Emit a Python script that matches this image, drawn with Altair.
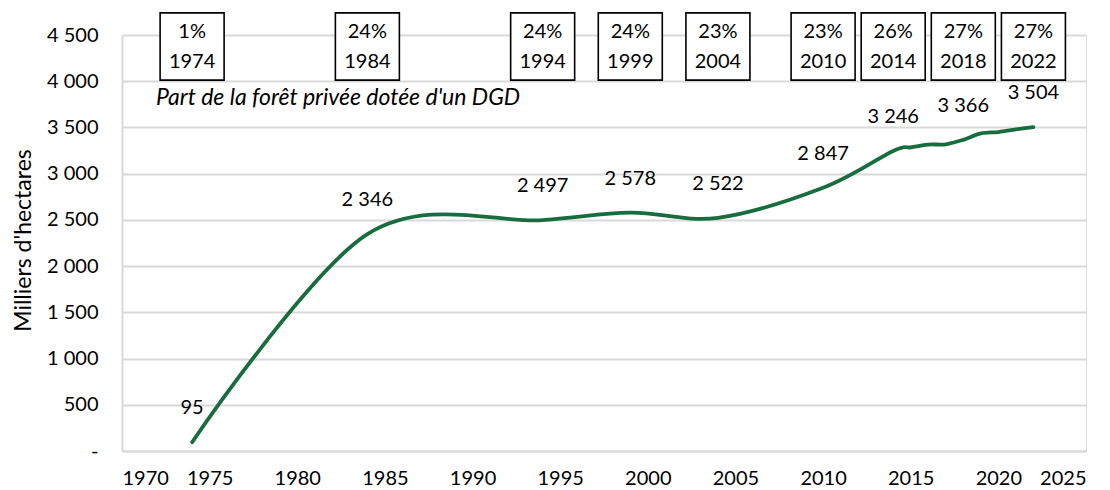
import altair as alt
import pandas as pd

# Line series (thousands of hectares)
years = [1974, 1984, 1994, 1999, 2004, 2010, 2014, 2015, 2016, 2017, 2018, 2019, 2020, 2021, 2022]
values = [95, 2346, 2497, 2578, 2522, 2847, 3246, 3285, 3315, 3318, 3366, 3435, 3450, 3478, 3504]

# Labelled survey years
label_years = [1974, 1984, 1994, 1999, 2004, 2010, 2014, 2018, 2022]
label_values = [95, 2346, 2497, 2578, 2522, 2847, 3246, 3366, 3504]
shares = ["1%", "24%", "24%", "24%", "23%", "23%", "26%", "27%", "27%"]

x_ticks = [1970, 1975, 1980, 1985, 1990, 1995, 2000, 2005, 2010, 2015, 2020, 2025]
y_ticks = [0, 500, 1000, 1500, 2000, 2500, 3000, 3500, 4000, 4500]

annotation = "Part de la forêt privée dotée d'un DGD"
y_title = "Milliers d'hectares"

FONT = "Lato"
GREEN = "#176d3d"
GRID = "#d9d9d9"

line_df = pd.DataFrame({"year": years, "value": values})
lab_df = pd.DataFrame({"year": label_years, "value": label_values,
                       "txt": [f"{v:,}".replace(",", " ") for v in label_values]})
box_df = pd.DataFrame({"year": label_years,
                       "box": [f"{s}\n{y}" for s, y in zip(shares, label_years)]})

x_scale = alt.Scale(domain=[1970, 2025], nice=False, zero=False)
y_scale = alt.Scale(domain=[0, 4500], nice=False)

x_enc = alt.X("year:Q", scale=x_scale,
              axis=alt.Axis(values=x_ticks, format="d", title=None, grid=False,
                            ticks=False, domainColor=GRID, domainWidth=2,
                            labelPadding=17, labelFontSize=20, labelFont=FONT,
                            labelColor="#000000"))
y_enc = alt.Y("value:Q", scale=y_scale,
              axis=alt.Axis(values=y_ticks, title=y_title, grid=True,
                            gridColor=GRID, gridWidth=2, ticks=False,
                            domainColor=GRID, domainWidth=2,
                            labelPadding=24, labelFontSize=20, labelFont=FONT,
                            labelColor="#000000",
                            labelExpr="datum.value == 0 ? '-' : replace(format(datum.value, ','), ',', ' ')",
                            titleFont=FONT, titleFontSize=23, titleFontWeight="normal",
                            titleColor="#000000", titleX=-99, titleY=205,
                            titleBaseline="middle", titleAlign="center"))

line = alt.Chart(line_df).mark_line(
    interpolate="cardinal", tension=0, color=GREEN, strokeWidth=3.8, strokeCap="round"
).encode(x=x_enc, y=y_enc)

labels = alt.Chart(lab_df).mark_text(
    font=FONT, fontSize=20, color="#000000", dy=-34, baseline="middle", align="center"
).encode(x=alt.X("year:Q", scale=x_scale), y=alt.Y("value:Q", scale=y_scale), text="txt:N")

boxes = alt.Chart(box_df).mark_point(
    shape="M-1,-1.05H1V1.05H-1Z", size=4096, filled=True, fill="white",
    stroke="black", strokeWidth=1.6, opacity=1
).encode(x=alt.X("year:Q", scale=x_scale), y=alt.value(11.5))

box_text = alt.Chart(box_df).mark_text(
    font=FONT, fontSize=20, color="#000000", lineBreak="\n", lineHeight=30,
    baseline="middle", align="center", dy=-15
).encode(x=alt.X("year:Q", scale=x_scale), y=alt.value(11.5), text="box:N")

note = alt.Chart(pd.DataFrame({"t": [annotation]})).mark_text(
    font=FONT, fontSize=23, fontStyle="italic", color="#000000",
    align="left", baseline="alphabetic"
).encode(x=alt.value(34), y=alt.value(70), text="t:N")

chart = alt.layer(line, labels, boxes, box_text, note).properties(
    width=964, height=416,
    autosize=alt.AutoSizeParams(type="none"),
    padding={"left": 114, "top": 27, "right": 16, "bottom": 39},
).configure_view(stroke=None).configure(background="white")

chart.save("out.html", embed_options={"renderer": "svg", "actions": False})
